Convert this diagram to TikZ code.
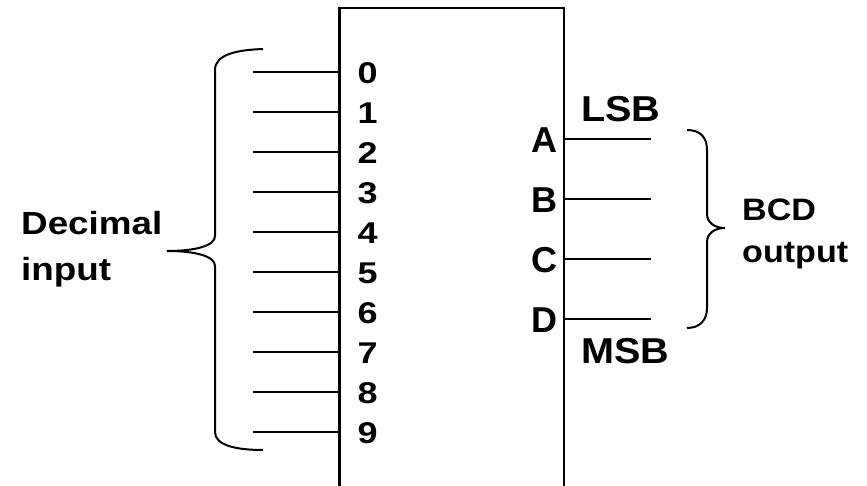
\documentclass[tikz,border=0pt]{standalone}
\usepackage{graphicx}
\usepackage{fontspec}
\setmainfont{Liberation Sans}
% horizontally widened text
\newcommand\widetext[2]{\scalebox{#1}[1]{#2}}
\begin{document}
\begin{tikzpicture}[x=1pt,y=-1pt,
  wire/.style={line width=2pt},
  brace/.style={line width=2pt},
  pinlabel/.style={inner sep=0pt,font=\bfseries\fontsize{30}{30}\selectfont},
  outlabel/.style={inner sep=0pt,font=\bfseries\fontsize{36}{36}\selectfont},
  sidelabel/.style={inner sep=0pt,anchor=base west,font=\bfseries\fontsize{32}{32}\selectfont},
  bcdlabel/.style={inner sep=0pt,anchor=base west,font=\bfseries\fontsize{31}{31}\selectfont}]
\useasboundingbox (0,0) rectangle (867,486);
\fill[white] (0,0) rectangle (867,486);

% encoder body (runs past the lower edge)
\node[draw,line width=2.5pt,outer sep=0pt,minimum width=224.5pt,minimum height=540pt,
      anchor=north west] (enc) at (339.5,8) {};

% decimal inputs 0..9
\foreach \i in {0,...,9}{
  \coordinate (in\i) at (253,{72+40*\i});
  \draw[wire] (in\i) -- (in\i -| enc.west);
  \node[pinlabel,anchor=west] (d\i) at (357.5,{73.5+40*\i}) {\widetext{1.2}{\i}};
}

% BCD outputs A..D
\foreach \n [count=\k from 0] in {A,B,C,D}{
  \coordinate (out\n) at (651,{139+60*\k});
  \draw[wire] (enc.east |- out\n) -- (out\n);
  \node[outlabel,anchor=east] (l\n) at (557.5,{140+60*\k}) {\n};
}

\node[outlabel,anchor=west] (lsb) at (581,109) {\widetext{1.1}{LSB}};
\node[outlabel,anchor=west] (msb) at (581,351.5) {\widetext{1.1}{MSB}};

% left brace
\draw[brace] (263,49) .. controls (235,50) and (215,55) .. (215,70)
  -- (215,236) .. controls (215,246) and (195,251) .. (167,251)
  .. controls (195,251) and (215,256) .. (215,266)
  -- (215,432) .. controls (215,445) and (235,450) .. (263,450);
\coordinate (ltip) at (167,251);

% right brace
\draw[brace] (687,130) .. controls (700,130) and (707,137) .. (707,150)
  -- (707,214) .. controls (707,222) and (714,228) .. (725,228)
  .. controls (714,228) and (707,234) .. (707,242)
  -- (707,308) .. controls (707,320) and (700,328) .. (687,328);
\coordinate (rtip) at (725,228);

\node[sidelabel] (dec) at (21,235) {\widetext{1.15}{Decimal}};
\node[sidelabel] (inp) at (21,280.5) {\widetext{1.15}{input}};
\node[bcdlabel] (bcd) at (742,221) {\widetext{1.1}{BCD}};
\node[bcdlabel] (outp) at (742,262) {\widetext{1.1}{output}};
\end{tikzpicture}
\end{document}
